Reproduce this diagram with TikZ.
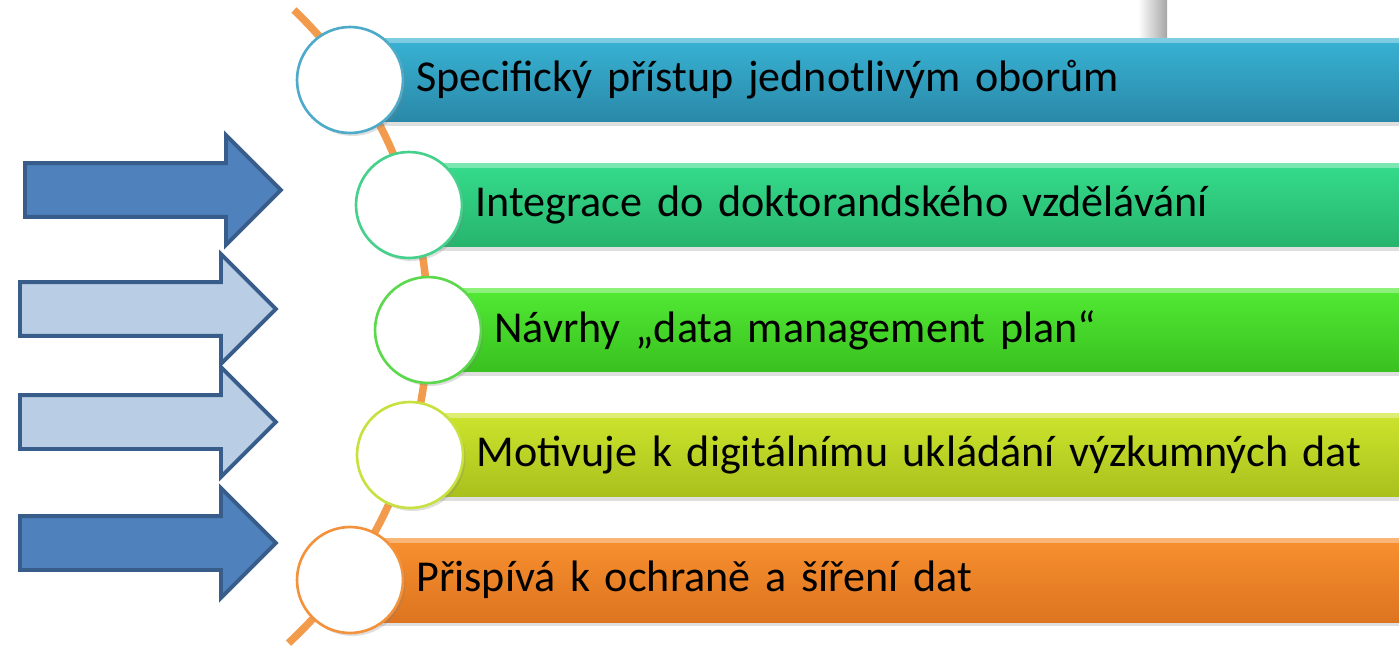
\documentclass[tikz,border=0pt]{standalone}
\usepackage{fontspec}
\setmainfont{Carlito}
\usetikzlibrary{shapes.arrows,shadows}

\definecolor{spine}{HTML}{F39B4C}
\definecolor{blueTop}{HTML}{38B3D4}
\definecolor{blueBot}{HTML}{2A88A8}
\definecolor{blueRim}{HTML}{4DAAC8}
\definecolor{tealTop}{HTML}{35DC8C}
\definecolor{tealBot}{HTML}{27B46D}
\definecolor{tealRim}{HTML}{45D08C}
\definecolor{greenTop}{HTML}{52EA34}
\definecolor{greenBot}{HTML}{39C11F}
\definecolor{greenRim}{HTML}{5CD84C}
\definecolor{limeTop}{HTML}{CDE52C}
\definecolor{limeBot}{HTML}{A9C01D}
\definecolor{limeRim}{HTML}{C8E040}
\definecolor{orangeTop}{HTML}{F8902F}
\definecolor{orangeBot}{HTML}{DD7420}
\definecolor{orangeRim}{HTML}{F3923D}
\definecolor{arrowDark}{HTML}{4F81BD}
\definecolor{arrowLight}{HTML}{B9CDE5}
\definecolor{arrowLine}{HTML}{385D8A}

\begin{document}
\begin{tikzpicture}[x=0.02cm,y=-0.02cm,
  bar/.style={anchor=west,minimum height=1.68cm,text width=21cm,align=left,
    inner xsep=0.72cm,inner ysep=0,font=\fontsize{25.1}{30}\selectfont,
    drop shadow={shadow xshift=0pt,shadow yshift=-0.08cm,opacity=0.25},
    path picture={\fill[white,opacity=0.35] (path picture bounding box.north west)
      rectangle ([yshift=-0.1cm]path picture bounding box.north east);}},
  ring/.style={circle,fill=white,minimum size=2.12cm,inner sep=0,line width=1.5pt,
    drop shadow={shadow xshift=0.05cm,shadow yshift=-0.06cm,opacity=0.25}},
  fat/.style={single arrow,single arrow head extend=0.56cm,minimum height=5.12cm,
    inner sep=0.5cm,anchor=tail,line width=2.2pt,draw=arrowLine}]
  \useasboundingbox (0,0) rectangle (1399,649);
  \clip (0,0) rectangle (1399,649);

  % edge of the slide behind
  \shade[left color=white,right color=black!35] (1138,0) rectangle (1167,37);

  % orange spine
  \coordinate (top) at (294,10);
  \draw[spine,line width=0.15cm] (top) arc[start angle=-46.2,end angle=47.2,radius=435];

  \node[bar,top color=blueTop,bottom color=blueBot] (b1) at (380,80) {Specifický přístup jednotlivým oborům};
  \node[bar,top color=tealTop,bottom color=tealBot] (b2) at (439,205) {Integrace do doktorandského vzdělávání};
  \node[bar,top color=greenTop,bottom color=greenBot] (b3) at (458,330) {Návrhy „data management plan“};
  \node[bar,top color=limeTop,bottom color=limeBot] (b4) at (440,455) {Motivuje k digitálnímu ukládání výzkumných dat};
  \node[bar,top color=orangeTop,bottom color=orangeBot] (b5) at (380,580) {Přispívá k ochraně a šíření dat};

  \node[ring,draw=blueRim] (c1) at (350,80) {};
  \node[ring,draw=tealRim] (c2) at (409,205) {};
  \node[ring,draw=greenRim] (c3) at (428,330) {};
  \node[ring,draw=limeRim] (c4) at (410,455) {};
  \node[ring,draw=orangeRim] (c5) at (350,580) {};

  \node[fat,fill=arrowDark] (a1) at (23,190) {};
  \node[fat,fill=arrowLight] (a2) at (18,309) {};
  \node[fat,fill=arrowLight] (a3) at (18,422) {};
  \node[fat,fill=arrowDark] (a4) at (18,543) {};
\end{tikzpicture}
\end{document}
